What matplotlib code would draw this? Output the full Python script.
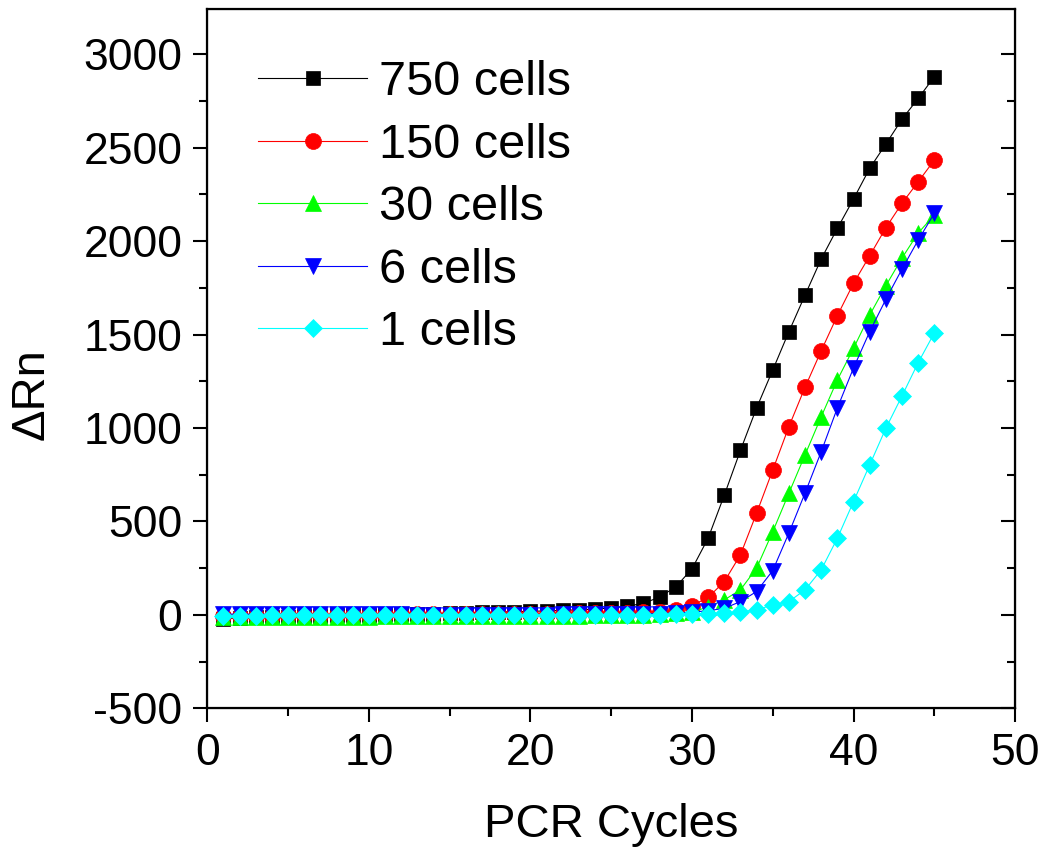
import matplotlib
matplotlib.use("Agg")
import matplotlib.pyplot as plt
import numpy as np

plt.rcParams['font.family'] = ['Liberation Sans', 'DejaVu Sans']
plt.rcParams['axes.unicode_minus'] = False

# PCR cycle numbers
cycles = np.arange(1, 46)

# delta Rn for each dilution
cells_750 = [-20, -17, -14, -11, -9, -7, -5, -3, -1, 0, 2, 4, 5, 7, 9, 11, 13, 15, 17, 19,
             21, 24, 27, 31, 37, 46, 62, 95, 150, 246, 410, 640, 880, 1107, 1310, 1515,
             1711, 1904, 2068, 2225, 2389, 2519, 2652, 2763, 2879]
cells_150 = [-8, -6, -5, -4, -3, -2, -1, 0, 0, 1, 1, 2, 2, 3, 3, 4, 4, 5, 5, 6,
             6, 7, 8, 9, 10, 12, 14, 18, 26, 50, 93, 178, 321, 544, 775, 1007,
             1218, 1413, 1601, 1774, 1921, 2071, 2202, 2317, 2433]
cells_30 = [-12, -12, -11, -11, -10, -10, -10, -9, -9, -9, -8, -8, -8, -7, -7, -7, -6, -6, -6, -5,
            -5, -4, -4, -3, -2, -1, 1, 4, 8, 14, 43, 80, 134, 250, 445, 651,
            856, 1060, 1257, 1426, 1604, 1761, 1909, 2043, 2139]
cells_6 = [4, 4, 3, 3, 3, 3, 2, 2, 2, 2, 2, 2, 1, 1, 1, 1, 1, 1, 1, 1,
           1, 2, 2, 2, 3, 4, 5, 7, 10, 15, 22, 35, 71, 125, 237, 438,
           652, 873, 1107, 1321, 1515, 1688, 1850, 2005, 2148]
cells_1 = [-5, -4, -4, -3, -3, -3, -2, -2, -2, -1, -1, -1, 0, 0, 0, 0, -1, -1, -1, -1,
           -1, -1, -1, 0, 0, 0, 1, 1, 2, 3, 5, 8, 16, 27, 53, 71,
           134, 241, 410, 606, 802, 998, 1171, 1349, 1508]

labels = ['750 cells', '150 cells', '30 cells', '6 cells', '1 cells']
colors = ['black', '#ff0000', '#00ff00', '#0000ff', '#00ffff']
markers = ['s', 'o', '^', 'v', 'D']
msizes = [10, 11.5, 12, 12, 9]

fig = plt.figure(figsize=(10.47, 8.57), dpi=100)
ax = fig.add_axes([0.198, 0.1735, 0.7715, 0.8156])

series = [cells_750, cells_150, cells_30, cells_6, cells_1]
for y, lab, c, m, ms in zip(series, labels, colors, markers, msizes):
    ax.plot(cycles, y, color=c, marker=m, markersize=ms, markeredgewidth=0.5,
            markeredgecolor=c, linewidth=0.8, label=lab)

ax.set_xlim(0, 50)
ax.set_ylim(-500, 3240)
ax.set_xticks(np.arange(0, 51, 10))
ax.set_xticks(np.arange(5, 50, 10), minor=True)
ax.set_yticks(np.arange(-500, 3001, 500))
ax.set_yticks(np.arange(-250, 3001, 500), minor=True)

ax.tick_params(axis='both', which='major', direction='out', length=10, width=1.5,
               labelsize=32, pad=8)
ax.tick_params(axis='both', which='minor', direction='out', length=5.5, width=1.5)
for sp in ax.spines.values():
    sp.set_linewidth(1.6)

# inward ticks on the right side
ax2 = ax.twinx()
ax2.set_ylim(ax.get_ylim())
ax2.set_yticks(np.arange(-500, 3001, 500))
ax2.set_yticks(np.arange(-250, 3001, 500), minor=True)
ax2.tick_params(axis='y', which='major', direction='in', length=10, width=1.5, labelright=False)
ax2.tick_params(axis='y', which='minor', direction='in', length=5.5, width=1.5)

ax.set_xlabel('PCR Cycles', fontsize=34, labelpad=21)
ax.set_ylabel('ΔRn', fontsize=34)
ax.yaxis.set_label_coords(-0.19, 0.45)

ax.legend(loc='upper left', bbox_to_anchor=(0.0, 1.0), frameon=False, fontsize=35,
          handlelength=2.24, handletextpad=0.25, labelspacing=0.36, borderaxespad=0.75,
          borderpad=0.3)

fig.savefig('out.png', dpi=100)
